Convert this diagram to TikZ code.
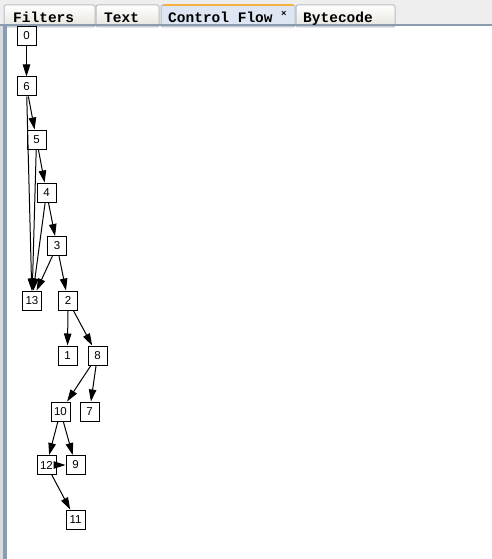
\documentclass[tikz,border=0pt]{standalone}
\usepackage{fontspec}
\setmainfont{Liberation Sans}
\newfontfamily\tabmono{Liberation Mono}
\usetikzlibrary{arrows.meta}

\definecolor{panelgray}{HTML}{EEEEEE}
\definecolor{tabedge}{HTML}{B8BCC4}
\definecolor{tabbottom}{HTML}{E6E4DC}
\definecolor{tabactive}{HTML}{DDE6F2}
\definecolor{taborange}{HTML}{F5B041}
\definecolor{frameblue}{HTML}{8B9CB0}
\definecolor{framelight}{HTML}{D5DCE4}

\begin{document}
\begin{tikzpicture}[
    x=1pt, y=-1pt,
    cfgblock/.style={shape=rectangle, draw=black, fill=white, line width=1pt, minimum size=19pt, inner sep=0pt, font=\fontsize{11.5}{13}\selectfont},
    tabframe/.style={draw=tabedge, line width=1pt, rounded corners=2pt, top color=white, bottom color=tabbottom},
    tablabel/.style={anchor=base west, inner sep=0pt, font=\tabmono\bfseries\fontsize{14.5}{16}\selectfont},
    >={Triangle[length=12pt, width=7.5pt]},
]
\useasboundingbox (0,0) rectangle (492,559);

% panel and tab strip
\fill[white] (0,0) rectangle (492,559);
\fill[panelgray] (0,0) rectangle (492,25);
\foreach \x/\w in {4/91, 96/63, 296/99}
    \draw[tabframe] (\x,5) rectangle ++(\w,22);
\draw[line width=1pt, draw=tabedge, rounded corners=2pt, fill=tabactive] (161,5) rectangle ++(134,22);
\draw[line width=2pt, taborange] (163,5) -- (293,5);
\fill[frameblue] (0,24) rectangle (492,26.5);
\fill[framelight] (0,26.5) rectangle (3,559);
\fill[frameblue] (3,26.5) rectangle (6.5,559);

\node[tablabel] (tfilters) at (13,23) {Filters};
\node[tablabel] (ttext) at (104,23) {Text};
\node[tablabel] (tflow) at (168,23) {Control Flow};
\node[anchor=base west, inner sep=0pt, font=\tabmono\bfseries\fontsize{9}{9}\selectfont] (tclose) at (281,17) {×};
\node[tablabel] (tbytecode) at (303,23) {Bytecode};

% blocks
\node[cfgblock] (b0) at (26.5, 36) {0};
\node[cfgblock] (b6) at (26.5, 86.5) {6};
\node[cfgblock] (b5) at (36.5, 139.5) {5};
\node[cfgblock] (b4) at (46.5, 192.5) {4};
\node[cfgblock] (b3) at (57, 246) {3};
\node[cfgblock] (b13) at (32, 300.5) {13};
\node[cfgblock] (b2) at (68, 300.5) {2};
\node[cfgblock] (b1) at (67.5, 355.5) {1};
\node[cfgblock] (b8) at (97.5, 355.5) {8};
\node[cfgblock] (b10) at (60.5, 411.5) {10};
\node[cfgblock] (b7) at (89.5, 411.5) {7};
\node[cfgblock] (b12) at (46.5, 465) {12};
\node[cfgblock] (b9) at (75.5, 465) {9};
\node[cfgblock] (b11) at (75.5, 519.5) {11};

\path[->, line width=1pt]
    (b0) edge (b6)
    (b6) edge (b5)
    (b6) edge (b13)
    (b5) edge (b4)
    (b5) edge (b13)
    (b4) edge (b3)
    (b4) edge (b13)
    (b3) edge (b13)
    (b3) edge (b2)
    (b2) edge (b1)
    (b2) edge (b8)
    (b8) edge (b10)
    (b8) edge (b7)
    (b10) edge (b12)
    (b10) edge (b9)
    (b12) edge (b11)
    (b12) edge (b9)
;
\end{tikzpicture}
\end{document}
